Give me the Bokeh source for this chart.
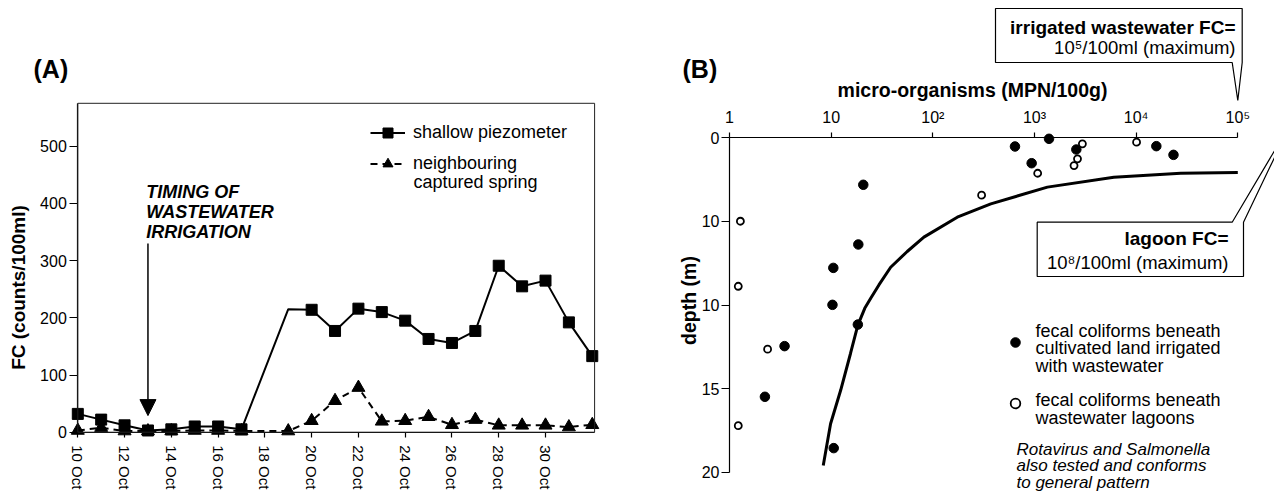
import math
from bokeh.plotting import figure
from bokeh.models import (Range1d, FixedTicker, Label, Arrow, NormalHead, Legend, LegendItem,
                          ColumnDataSource, CDSView, BooleanFilter, PolyAnnotation, BoxAnnotation)
from bokeh.layouts import row
from bokeh.embed import file_html
from bokeh.resources import INLINE

FONT = "Liberation Sans"

# ---------------- Panel A data ----------------
# sampling day (day of October; 32 = 1 Nov)
sample_days = [10, 11, 12, 13, 14, 15, 16, 17, 19, 20, 21, 22, 23, 24, 25, 26, 27, 28, 29, 30, 31, 32]
piezo = [32, 22, 12, 3, 5, 10, 10, 5, 215, 214, 177, 216, 210, 195, 163, 156, 177, 291, 255, 265, 192, 133]
piezo_marker = [True] * 8 + [False] + [True] * 13
spring = [3, 8, 2, 2, 2, 3, 3, 2, 2, 20, 55, 78, 19, 20, 27, 13, 22, 12, 12, 12, 9, 13]
x_tick_days = [10, 12, 14, 16, 18, 20, 22, 24, 26, 28, 30]
x_tick_labels = ["10 Oct", "12 Oct", "14 Oct", "16 Oct", "18 Oct", "20 Oct",
                 "22 Oct", "24 Oct", "26 Oct", "28 Oct", "30 Oct"]
y_ticks_a = [0, 100, 200, 300, 400, 500]
irrigation_day = 13

# ---------------- Panel B data ----------------
cult_x = [643, 1390, 938, 2580, 15800, 23300, 20.7, 18.5, 10.5, 10.3, 18.3, 3.48, 2.23, 10.6]
cult_depth = [0.52, 0.06, 1.52, 0.70, 0.50, 1.02, 2.81, 6.38, 7.78, 9.99, 11.17, 12.46, 15.49, 18.56]
lagoon_x = [2960, 10100, 2650, 2450, 1075, 302, 1.28, 1.22, 2.37, 1.22]
lagoon_depth = [0.36, 0.26, 1.26, 1.66, 2.12, 3.43, 4.99, 8.88, 12.64, 17.22]
curve_x = [8.36, 9.87, 12.4, 15.5, 18.3, 21.4, 24.5, 29.5, 38.5, 56, 81.7, 174, 372, 1340, 6030, 27500, 100000]
curve_depth = [19.6, 17.1, 15.1, 12.9, 11.2, 10.2, 9.6, 8.8, 7.74, 6.8, 5.94, 4.75, 3.95, 2.95, 2.36, 2.12, 2.08]
x_ticks_b = [1, 10, 100, 1000, 10000, 100000]
x_tick_labels_b = ["1", "10", "10\u00b2", "10\u00b3", "10\u2074", "10\u2075"]
depth_ticks = [0, 5, 10, 15, 20]
depth_tick_labels = ["0", "10", "10", "15", "20"]
legend_b_labels = ["fecal coliforms beneath\ncultivated land irrigated\nwith wastewater",
                   "fecal coliforms beneath\nwastewater lagoons"]

# ---------------- layout constants (window pixels) ----------------
W, H = 1274, 496
A_W = 648
B_W = W - A_W

A_PX0, A_PY0 = 77.3, 431.7           # pixel of (10 Oct, 0)
A_PX_DAY = 23.385
A_PX_VAL = 0.572
A_BOX_RIGHT, A_BOX_TOP = 32.1, 575


def ax(px):
    return 10 + (px - A_PX0) / A_PX_DAY


def ay(py):
    return (A_PY0 - py) / A_PX_VAL


B_PX0, B_PY0 = 729.0, 137.3          # pixel of (1, depth 0)
B_DEC = (1237.3 - 729.0) / 5.0
B_PX_M = (471.7 - 137.3) / 20.0


def bx(px):
    return 10 ** ((px - B_PX0) / B_DEC)


def by(py):
    return (py - B_PY0) / B_PX_M


def style_axis(axis, size="16px"):
    axis.major_label_text_font = FONT
    axis.major_label_text_font_size = size
    axis.major_label_text_color = "black"
    axis.axis_line_color = "black"
    axis.axis_line_width = 1.2
    axis.major_tick_line_color = "black"
    axis.major_tick_line_width = 1.2
    axis.major_tick_in = 0
    axis.minor_tick_in = 0
    axis.minor_tick_out = 0


def text_label(p, x, y, text, size, style="normal", align="left", baseline="middle",
               angle=0.0, line_height=1.0):
    p.add_layout(Label(x=x, y=y, text=text, text_font=FONT, text_font_size=size,
                       text_font_style=style, text_align=align, text_baseline=baseline,
                       angle=angle, text_line_height=line_height, text_color="black"))


# ================= Panel A =================
pA = figure(width=A_W, height=H, x_range=Range1d(ax(0), ax(A_W)), y_range=Range1d(ay(H), ay(0)),
            output_backend="svg", toolbar_location=None, min_border=0,
            min_border_left=0, min_border_right=0, min_border_top=0, min_border_bottom=0)
pA.xgrid.visible = False
pA.ygrid.visible = False
pA.outline_line_color = None
pA.background_fill_color = "white"
pA.border_fill_color = "white"

xa = pA.xaxis[0]
style_axis(xa, "15px")
xa.ticker = FixedTicker(ticks=x_tick_days)
xa.major_label_overrides = {d: l for d, l in zip(x_tick_days, x_tick_labels)}
xa.major_label_orientation = "vertical"
xa.major_tick_out = 5
xa.major_label_standoff = 8
xa.fixed_location = 0
xa.bounds = (10, A_BOX_RIGHT)

ya = pA.yaxis[0]
style_axis(ya, "16px")
ya.ticker = FixedTicker(ticks=y_ticks_a)
ya.major_tick_out = 8
ya.major_label_standoff = 3
ya.fixed_location = 10
ya.bounds = (0, A_BOX_TOP)

pA.add_layout(BoxAnnotation(left=10, right=A_BOX_RIGHT, bottom=0, top=A_BOX_TOP,
                            fill_alpha=0, line_color="#222222", line_alpha=1.0, line_width=1))

srcA = ColumnDataSource(dict(day=sample_days, piezo=piezo, spring=spring))
l1 = pA.line("day", "piezo", source=srcA, line_width=2, color="black")
s1 = pA.scatter("day", "piezo", source=srcA, view=CDSView(filter=BooleanFilter(piezo_marker)),
                marker="square", size=11, color="black")
l2 = pA.line("day", "spring", source=srcA, line_width=2, color="black", line_dash="7 5")
s2 = pA.scatter("day", "spring", source=srcA, marker="triangle", size=13, color="black")

legA = Legend(items=[LegendItem(label="shallow piezometer", renderers=[l1, s1]),
                     LegendItem(label="neighbouring", renderers=[l2, s2])],
              location=(370, H - 175.5), glyph_width=35, glyph_height=25, label_standoff=8,
              spacing=6, padding=0, margin=0, border_line_alpha=0, background_fill_alpha=0,
              label_text_font=FONT, label_text_font_size="18px", label_text_color="black")
pA.add_layout(legA)
text_label(pA, ax(413), ay(181.7), "captured spring", "18px")

pA.add_layout(Arrow(end=NormalHead(size=16, fill_color="black", line_color="black"),
                    x_start=irrigation_day, y_start=330, x_end=irrigation_day, y_end=29,
                    line_width=1.5, line_color="black"))
text_label(pA, ax(145.7), ay(181.7), "TIMING OF\nWASTEWATER\nIRRIGATION", "18px",
           style="bold italic", baseline="top", line_height=1.0)
text_label(pA, ax(18), ay(287), "FC (counts/100ml)", "19px", style="bold",
           align="center", angle=math.pi / 2)
text_label(pA, ax(33), ay(68), "(A)", "25px", style="bold", baseline="alphabetic")

# ================= Panel B =================
pB = figure(width=B_W, height=H, x_axis_type="log",
            x_range=Range1d(bx(A_W), bx(W)), y_range=Range1d(by(H), by(0)),
            x_axis_location="above", output_backend="svg", toolbar_location=None, min_border=0,
            min_border_left=0, min_border_right=0, min_border_top=0, min_border_bottom=0)
pB.xgrid.visible = False
pB.ygrid.visible = False
pB.outline_line_color = None
pB.background_fill_color = "white"
pB.border_fill_color = "white"

xb = pB.xaxis[0]
style_axis(xb, "16px")
xb.ticker = FixedTicker(ticks=x_ticks_b)
xb.major_label_overrides = {t: l for t, l in zip(x_ticks_b, x_tick_labels_b)}
xb.major_tick_out = 5
xb.major_label_standoff = 7
xb.fixed_location = 0
xb.bounds = (1, 100000)

yb = pB.yaxis[0]
style_axis(yb, "16px")
yb.ticker = FixedTicker(ticks=depth_ticks)
yb.major_label_overrides = {t: l for t, l in zip(depth_ticks, depth_tick_labels)}
yb.major_tick_out = 8
yb.major_label_standoff = 2
yb.fixed_location = 1
yb.bounds = (0, 20)

pB.line(curve_x, curve_depth, line_width=3, color="black")
srcF = ColumnDataSource(dict(x=cult_x, d=cult_depth))
srcO = ColumnDataSource(dict(x=lagoon_x, d=lagoon_depth))
rF = pB.scatter("x", "d", source=srcF, size=9.5, color="black")
rO = pB.scatter("x", "d", source=srcO, size=7, fill_color="white", line_color="black",
                line_width=1.8)

# legend keys (library legend, glyphs only) + multi-line label texts
legB = Legend(items=[LegendItem(label=" ", renderers=[rF]),
                     LegendItem(label=" ", renderers=[rO])],
              location=(1003 - A_W, H - 414.7), glyph_width=24, glyph_height=24, label_standoff=8,
              spacing=37, padding=0, margin=0, border_line_alpha=0, background_fill_alpha=0,
              label_text_font=FONT, label_text_font_size="18px", label_text_color="black")
pB.add_layout(legB)
text_label(pB, bx(1035), by(320), legend_b_labels[0], "18px", baseline="top", line_height=0.895)
text_label(pB, bx(1035), by(389.3), legend_b_labels[1], "18px", baseline="top", line_height=0.895)

text_label(pB, bx(1016), by(439), "Rotavirus and Salmonella\nalso tested and conforms\nto general pattern",
           "17px", style="italic", baseline="top", line_height=0.88)

# callout boxes
call1_px = [(995, 8), (1241.7, 8), (1241.7, 62), (1237.3, 100), (1231.7, 62), (995, 62)]
call2_px = [(1036.7, 221.7), (1231.7, 221.7), (1291, 121.5), (1243, 221.7), (1243, 276), (1036.7, 276)]
for pts in (call1_px, call2_px):
    pB.add_layout(PolyAnnotation(xs=[bx(p[0]) for p in pts], ys=[by(p[1]) for p in pts],
                                 fill_color="white", fill_alpha=1.0,
                                 line_color="black", line_alpha=1.0, line_width=1.2))

text_label(pB, bx(1235), by(26.7), "irrigated wastewater FC=", "19px", style="bold", align="right")
text_label(pB, bx(1235), by(46.7), "10\u2075/100ml (maximum)", "18.5px", align="right")
text_label(pB, bx(1228), by(238), "lagoon FC=", "19px", style="bold", align="right")
text_label(pB, bx(1228), by(261.7), "10\u2078/100ml (maximum)", "18.5px", align="right")
text_label(pB, bx(972), by(89), "micro-organisms (MPN/100g)", "19.5px", style="bold", align="center")
text_label(pB, bx(688), by(300), "depth (m)", "19.5px", style="bold", align="center",
           angle=math.pi / 2)
text_label(pB, bx(682), by(68), "(B)", "25px", style="bold", baseline="alphabetic")

layout = row(pA, pB)
open("out.html", "w").write(file_html(layout, INLINE))
